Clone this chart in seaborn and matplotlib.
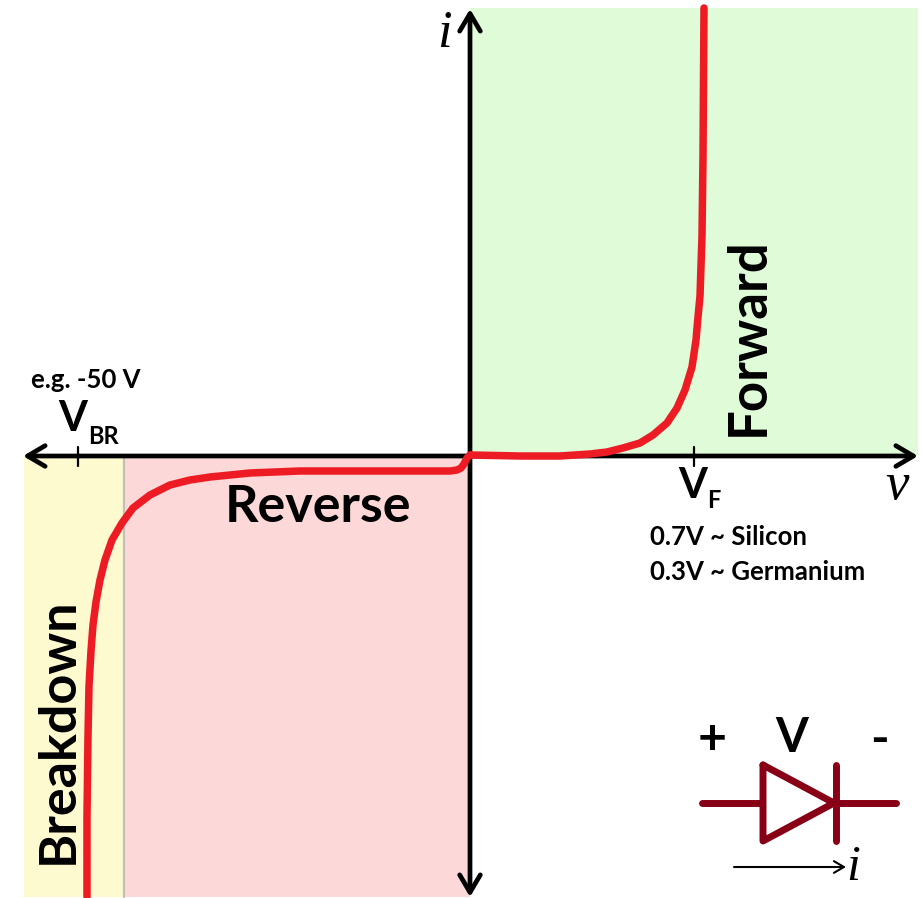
import matplotlib
matplotlib.use("Agg")
import matplotlib.pyplot as plt
import seaborn as sns
import pandas as pd

# Curve samples (voltage, current in picture-scaled units)
forward_v = [0, 50, 90, 120, 137, 153, 170, 183, 197, 207, 215, 222, 226, 228, 230, 232, 233, 234]
forward_i = [1, 0, 0, 2, 4, 8, 13, 21, 33, 48, 66, 89, 116, 139, 160, 220, 300, 448]
reverse_v = [0, -3, -6, -9, -13, -20, -70, -120, -170, -220, -240, -260, -280, -300, -320, -337, -348,
             -358, -365, -370, -374, -377, -379, -381, -382, -383, -383]
reverse_i = [1, -2, -8, -12, -14, -15, -15, -15, -15, -17, -19, -21, -24, -29, -39, -52, -67,
             -84, -104, -124, -146, -169, -195, -230, -280, -360, -441]

sns.set_theme(style="white")
plt.rcParams['font.family'] = ['Lato', 'DejaVu Sans']

fig = plt.figure(figsize=(9.22, 8.98), dpi=100, facecolor="white")
ax = fig.add_axes([0, 0, 1, 1])
ax.set_xlim(-470, 452)
ax.set_ylim(-442, 456)
ax.axis("off")

# Regions
ax.axvspan(0, 448, ymin=442/898, ymax=890/898, color="#dffbd8", lw=0, zorder=0)
ax.axvspan(-346, 0, ymin=1/898, ymax=442/898, color="#fdd8d8", lw=0, zorder=0)
ax.axvspan(-446, -346, ymin=1/898, ymax=442/898, color="#fefad0", lw=0, zorder=0)
ax.plot([-346, -346], [-441, 0], color="#c0c0b8", lw=1.6, zorder=1)

# Axes arrows
black = "black"
arrow = dict(arrowstyle="->,head_length=1.05,head_width=0.62", color=black, lw=3.4,
             shrinkA=0, shrinkB=0, capstyle="round", joinstyle="round")
ax.annotate("", xy=(448, 0), xytext=(0, 0), arrowprops=arrow, zorder=3)
ax.annotate("", xy=(-447, 0), xytext=(0, 0), arrowprops=arrow, zorder=3)
ax.annotate("", xy=(0, 447), xytext=(0, 0), arrowprops=arrow, zorder=3)
ax.annotate("", xy=(0, -441), xytext=(0, 0), arrowprops=arrow, zorder=3)

# Ticks
ax.plot([-392, -392], [-10, 9], color=black, lw=1.6, zorder=3)
ax.plot([224, 224], [-10, 9], color=black, lw=1.6, zorder=3)

# Curve
df = pd.concat([
    pd.DataFrame({"v": forward_v, "i": forward_i, "branch": "forward"}),
    pd.DataFrame({"v": reverse_v, "i": reverse_i, "branch": "reverse"}),
])
sns.lineplot(data=df, x="v", y="i", units="branch", estimator=None, sort=False,
             color="#ed1c24", lw=5.4, ax=ax, legend=False, zorder=4,
             solid_joinstyle="round")
ax.set_xlim(-470, 452)
ax.set_ylim(-442, 456)

# Labels
ax.text(-152, -52, "Reverse", fontsize=37.5, fontweight="bold", ha="center", va="center", color=black, zorder=5)
ax.text(278, 119, "Forward", fontsize=38, fontweight="bold", rotation=90, ha="center", va="center", color=black, zorder=5)
ax.text(-412, -275, "Breakdown", fontsize=37.5, fontweight="bold", rotation=90, ha="center", va="center", color=black, zorder=5)

ax.text(-384, 76, "e.g. -50 V", fontsize=18.5, fontweight="bold", ha="center", va="center", color=black)
ax.text(-397, 37, "V", fontsize=30, fontweight="bold", ha="center", va="center", color=black)
ax.text(-367, 20, "BR", fontsize=17, fontweight="bold", ha="center", va="center", color=black)
ax.text(223, -30, "V", fontsize=30, fontweight="bold", ha="center", va="center", color=black)
ax.text(244, -45, "F", fontsize=17, fontweight="bold", ha="center", va="center", color=black)
ax.text(180, -81, "0.7V ~ Silicon", fontsize=18.5, fontweight="bold", ha="left", va="center", color=black)
ax.text(180, -116, "0.3V ~ Germanium", fontsize=18.5, fontweight="bold", ha="left", va="center", color=black)

serif = ['Liberation Serif', 'DejaVu Serif']
ax.text(-26, 422, "i", fontsize=38, style="italic", family=serif, ha="center", va="center", color=black)
ax.text(427, -30, "v", fontsize=38, style="italic", family=serif, ha="center", va="center", color=black)
ax.text(383, -412, "i", fontsize=36, style="italic", family=serif, ha="center", va="center", color=black)

# Diode symbol
maroon = "#880015"
ax.plot([232, 290], [-347, -347], color=maroon, lw=5, solid_capstyle="round", zorder=3)
ax.plot([364, 426], [-347, -347], color=maroon, lw=5, solid_capstyle="round", zorder=3)
ax.plot([293, 293, 364, 293], [-309, -385, -347, -309], color=maroon, lw=5, solid_joinstyle="round", zorder=3)
ax.plot([366, 366], [-309, -385], color=maroon, lw=5, solid_capstyle="round", zorder=3)
ax.annotate("", xy=(376, -411), xytext=(264, -411),
            arrowprops=dict(arrowstyle="->,head_length=0.6,head_width=0.35", color=black, lw=1.5, shrinkA=0, shrinkB=0))
ax.text(242, -284, "+", fontsize=36, fontweight="bold", ha="center", va="center", color=black)
ax.text(322, -282, "V", fontsize=34, fontweight="bold", ha="center", va="center", color=black)
ax.text(409, -284, "-", fontsize=36, fontweight="bold", ha="center", va="center", color=black)

fig.savefig("out.png", dpi=100, facecolor="white")
